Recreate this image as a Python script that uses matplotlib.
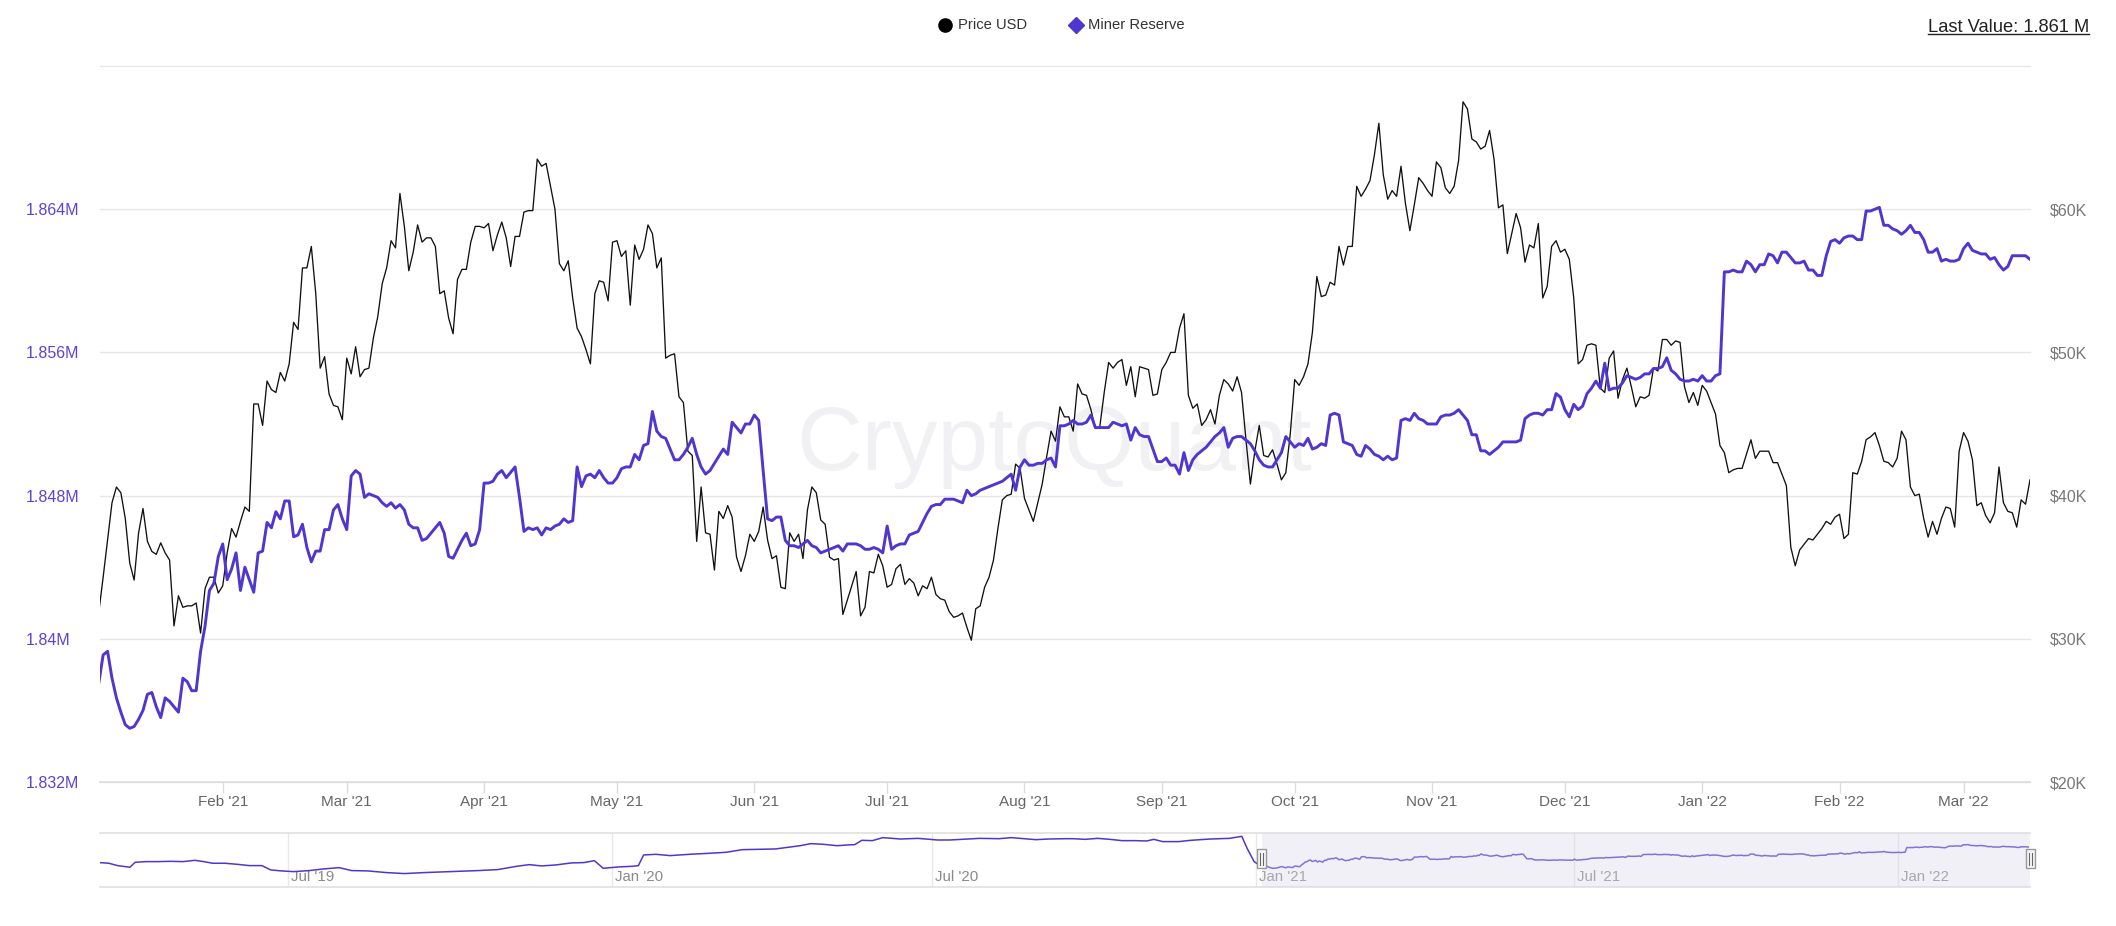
import matplotlib
matplotlib.use("Agg")
import matplotlib.pyplot as plt
import matplotlib.dates as mdates
from matplotlib.patches import Rectangle
from matplotlib.transforms import offset_copy
import numpy as np
import pandas as pd

plt.rcParams["font.family"] = ["Liberation Sans", "DejaVu Sans"]

# ---- data ----
start_date = "2021-01-04"  # first daily point of the zoomed window

# BTC price, thousands of USD, one value per day
price_kusd = [
    31.8, 34.3, 36.9, 39.5, 40.6, 40.2, 38.4, 35.3, 34.1, 37.4,
    39.1, 36.8, 36.1, 35.9, 36.7, 36.0, 35.5, 30.9, 33.0, 32.2,
    32.3, 32.3, 32.5, 30.4, 33.5, 34.3, 34.3, 33.2, 33.7, 36.0,
    37.7, 37.1, 38.2, 39.2, 38.9, 46.4, 46.4, 44.9, 48.0, 47.4,
    47.2, 48.6, 48.0, 49.2, 52.1, 51.6, 55.9, 55.9, 57.4, 54.1,
    48.9, 49.7, 47.1, 46.3, 46.2, 45.3, 49.6, 48.5, 50.4, 48.3,
    48.8, 48.9, 51.0, 52.5, 54.8, 55.9, 57.8, 57.3, 61.1, 58.8,
    55.7, 57.0, 58.9, 57.7, 58.0, 58.0, 57.4, 54.1, 54.3, 52.4,
    51.3, 55.1, 55.8, 55.8, 57.7, 58.8, 58.8, 58.7, 59.0, 57.1,
    58.2, 59.1, 58.0, 56.0, 58.1, 58.1, 59.8, 59.9, 59.9, 63.5,
    63.0, 63.2, 61.6, 60.0, 56.2, 55.7, 56.4, 53.8, 51.7, 51.1,
    50.2,
    49.2, 54.1, 55.0, 54.9, 53.6, 57.7, 57.8, 56.7, 57.1, 53.3,
    57.5, 56.5, 57.2, 58.9, 58.3, 55.9, 56.6, 49.6, 49.8, 49.9,
    46.9, 46.5, 43.1, 42.8, 36.8, 40.6, 37.4, 37.3, 34.8, 38.9,
    38.4, 39.3, 38.5, 35.7, 34.7, 35.8, 37.3, 36.8, 37.5, 39.2,
    36.9, 35.6, 35.8, 33.6, 33.5, 37.4, 36.8, 37.3, 35.6, 39.0,
    40.6, 40.2, 38.3, 38.0, 35.7, 35.5, 35.6, 31.7, 32.7, 33.7,
    34.7, 31.6, 32.2, 34.7, 34.6, 35.9, 35.1, 33.6, 33.8, 34.9,
    35.2, 33.8, 34.2, 33.9, 33.0, 33.7, 33.5, 34.3, 33.1, 32.8,
    32.7, 31.9, 31.5, 31.6, 31.8, 30.8, 29.9, 32.1, 32.3, 33.6,
    34.3, 35.5, 37.7, 39.7, 40.0, 40.1, 42.2, 41.9, 39.8, 39.0,
    38.2, 39.5, 40.8, 42.7, 44.5, 43.8, 46.2, 45.5, 45.5,
    44.5, 47.8, 47.1, 47.0, 46.0, 44.7, 44.8, 47.2, 49.3, 48.9,
    49.3, 49.5, 47.7, 49.0, 46.9, 49.0, 48.9, 48.8, 47.0, 47.1,
    48.8, 49.3, 50.0, 50.0, 51.7, 52.7, 47.0, 46.1, 46.4, 44.9,
    45.3, 46.0, 45.0, 47.0, 48.1, 47.8, 47.3, 48.3, 47.2, 43.9,
    40.8, 43.1, 44.9, 42.8, 42.7, 43.2, 42.2, 41.1, 41.6, 44.3,
    48.1, 47.7, 48.3, 49.2, 51.4, 55.3, 53.9, 54.0, 54.9, 54.7,
    57.4, 56.1, 57.4, 57.4, 61.6, 60.9, 61.4, 62.0, 63.8, 66.0,
    62.4, 60.7, 61.3, 60.9, 63.0, 60.4, 58.5, 60.3, 62.2, 61.8,
    61.3, 60.9, 63.3, 62.9, 61.5, 61.1, 61.6, 63.4, 67.5, 67.0,
    64.9, 64.7, 64.2, 64.4, 65.5, 63.5, 60.1, 60.3, 56.9, 58.3,
    59.7, 58.7, 56.3, 57.5, 57.3, 59.0, 53.8, 54.6,
    57.4, 57.8, 57.0, 57.2, 56.5, 53.8, 49.2, 49.5, 50.5, 50.6,
    50.5, 47.5, 47.2, 49.6, 50.1, 46.8, 48.1, 48.9, 47.6, 46.2,
    46.9, 46.8, 47.0, 48.9, 48.7, 50.9, 50.9, 50.5, 50.8, 50.7,
    47.6, 46.5, 47.2, 46.3, 47.7, 47.3, 46.5, 45.7, 43.5, 43.0,
    41.6, 41.8, 41.9, 41.9, 42.9, 43.9, 42.6, 43.1, 43.1, 43.1,
    42.3, 42.3, 41.5, 40.7, 36.4, 35.1, 36.2, 36.6, 37.0, 36.9,
    37.3, 37.7, 38.2, 38.0, 38.5, 38.7, 37.0, 37.3, 41.6, 41.5,
    42.4, 43.9, 44.1, 44.4, 43.5, 42.4, 42.3, 42.0, 42.6, 44.5,
    43.9, 40.6, 40.0, 40.1, 38.4, 37.1, 38.2, 37.3, 38.4, 39.2,
    39.1, 37.8, 43.1, 44.4, 43.8, 42.5, 39.3, 39.5, 38.6, 38.1,
    38.8, 42.0, 39.5, 38.9, 38.8, 37.8, 39.7, 39.4, 41.1,
]

# miner reserve, thousands of BTC, one value per day
miner_reserve_kbtc = [
    1837.5, 1839.1, 1839.3, 1837.8, 1836.7, 1835.9, 1835.2, 1835.0, 1835.1, 1835.5,
    1836.0, 1836.9, 1837.0, 1836.2, 1835.6, 1836.7, 1836.5, 1836.2, 1835.9, 1837.8,
    1837.6, 1837.1, 1837.1, 1839.3, 1840.7, 1842.7, 1843.1, 1844.6, 1845.3, 1843.3,
    1843.9, 1844.8, 1842.7, 1844.0, 1843.3, 1842.6, 1844.8, 1844.9, 1846.5, 1846.2,
    1847.1, 1846.7, 1847.7, 1847.7, 1845.7, 1845.8, 1846.4, 1845.1, 1844.3, 1844.9,
    1844.9, 1846.1, 1846.1, 1847.2, 1847.5, 1846.7, 1846.1, 1849.1, 1849.4, 1849.2,
    1847.9, 1848.1, 1848.0, 1847.9, 1847.6, 1847.4, 1847.6, 1847.3, 1847.5, 1847.2,
    1846.4, 1846.2, 1846.2, 1845.5, 1845.6, 1845.9, 1846.2, 1846.5, 1845.9, 1844.6,
    1844.5, 1845.0, 1845.5, 1845.9, 1845.2, 1845.3, 1846.1, 1848.7, 1848.7, 1848.8,
    1849.2, 1849.4, 1849.0, 1849.3, 1849.6, 1847.9, 1846.0, 1846.2, 1846.1, 1846.2,
    1845.8, 1846.2, 1846.1, 1846.3, 1846.4, 1846.7, 1846.5, 1846.6, 1849.6, 1848.5,
    1849.1, 1849.2, 1849.0, 1849.4, 1849.0, 1848.7, 1848.7, 1849.0, 1849.5, 1849.6,
    1849.6, 1850.3, 1850.0, 1850.8, 1850.9, 1852.7, 1851.6, 1851.3, 1851.2, 1850.6,
    1850.0, 1850.0, 1850.3, 1850.7, 1851.2, 1850.3, 1849.6, 1849.2, 1849.4, 1849.8,
    1850.2, 1850.6, 1850.3, 1852.1, 1851.8, 1851.5, 1852.0, 1852.0, 1852.5, 1852.2,
    1849.4, 1846.7, 1846.6, 1846.8, 1846.8, 1845.5, 1845.2, 1845.2, 1845.1, 1845.3,
    1845.5, 1845.2, 1845.1, 1844.8, 1844.9, 1845.0, 1845.1, 1845.2, 1844.9, 1845.3,
    1845.3, 1845.3, 1845.2, 1845.0, 1845.0, 1845.1, 1845.0, 1844.8, 1846.3, 1845.0,
    1845.2, 1845.3, 1845.3, 1845.8, 1845.9, 1846.0, 1846.5, 1847.0, 1847.4, 1847.5,
    1847.5, 1847.8, 1847.8, 1847.8, 1847.7, 1847.6, 1848.3, 1848.0, 1848.1, 1848.3,
    1848.4, 1848.5, 1848.6, 1848.7, 1848.8, 1849.0, 1849.2, 1848.3, 1849.6, 1850.0,
    1849.7, 1849.7, 1849.8, 1849.8, 1850.0, 1850.1, 1849.6, 1851.9, 1851.9, 1852.0,
    1852.2, 1852.0, 1852.0, 1852.1, 1852.5, 1851.8, 1851.8, 1851.8, 1851.8, 1852.1,
    1852.0, 1851.9, 1852.0, 1851.1, 1851.8, 1851.4, 1851.3, 1851.3, 1850.6, 1849.9,
    1849.9, 1850.1, 1849.7, 1849.7, 1849.2, 1850.4, 1849.4, 1850.0, 1850.3, 1850.5,
    1850.7, 1851.0, 1851.3, 1851.5, 1851.8, 1850.7, 1851.2, 1851.3, 1851.3, 1851.1,
    1850.9, 1850.5, 1850.0, 1849.7, 1849.6, 1849.6, 1850.0, 1850.4, 1851.3, 1851.0,
    1850.7, 1850.9, 1850.8, 1851.2, 1850.6, 1850.7, 1850.9, 1850.8, 1852.5, 1852.6,
    1852.5, 1851.0, 1850.9, 1850.8, 1850.3, 1850.2, 1850.8, 1850.6, 1850.3, 1850.2,
    1850.0, 1850.2, 1850.0, 1850.1, 1852.2, 1852.3, 1852.2, 1852.6, 1852.3, 1852.2,
    1852.0, 1852.0, 1852.0, 1852.4, 1852.5, 1852.5, 1852.6, 1852.8, 1852.5, 1852.2,
    1851.4, 1851.4, 1850.5, 1850.5, 1850.3, 1850.5, 1850.7, 1851.0, 1851.0, 1851.0,
    1851.0, 1851.1, 1852.3, 1852.5, 1852.6, 1852.6, 1852.5, 1852.8,
    1852.8, 1853.7, 1853.5, 1852.8, 1852.4, 1853.1, 1852.8, 1853.0, 1853.7, 1854.0,
    1854.4, 1854.0, 1855.4, 1853.9, 1854.0, 1854.0, 1854.3, 1854.7, 1854.6, 1854.5,
    1854.6, 1854.8, 1854.8, 1855.1, 1855.1, 1855.2, 1855.7, 1855.0, 1854.8, 1854.5,
    1854.4, 1854.4, 1854.5, 1854.4, 1854.7, 1854.4, 1854.4, 1854.7, 1854.8, 1860.5,
    1860.5, 1860.6, 1860.5, 1860.5, 1861.1, 1860.9, 1860.5, 1860.9, 1860.9, 1861.5,
    1861.4, 1861.0, 1861.6, 1861.6, 1861.3, 1861.0, 1861.0, 1861.1, 1860.6, 1860.6,
    1860.3, 1860.3, 1861.4, 1862.2, 1862.3, 1862.1, 1862.4, 1862.5, 1862.5, 1862.3,
    1862.3, 1863.9, 1863.9, 1864.0, 1864.1, 1863.1, 1863.1, 1862.9, 1862.8, 1862.6,
    1862.8, 1863.1, 1862.7, 1862.7, 1862.3, 1861.6, 1861.6, 1861.8, 1861.1, 1861.2,
    1861.1, 1861.1, 1861.2, 1861.8, 1862.1, 1861.7, 1861.6, 1861.5, 1861.5, 1861.2,
    1861.3, 1860.9, 1860.6, 1860.8, 1861.4, 1861.4, 1861.4, 1861.4, 1861.2,
]

# navigator history before the zoomed window: days relative to 2021-01-01
nav_origin = "2021-01-01"
nav_days = [
    -657, -652, -647, -640, -637, -631, -624, -617, -610, -603,
    -598, -593, -586, -579, -572, -565, -560, -554, -547, -538,
    -530, -521, -514, -505, -494, -484, -473, -463, -452, -442,
    -431, -420, -413, -406, -398, -389, -382, -376, -371, -362,
    -354, -351, -348, -341, -333, -322, -311, -301, -292, -283,
    -273, -266, -259, -253, -246, -238, -232, -228, -224, -218,
    -212, -202, -192, -181, -174, -167, -157, -146, -139, -132,
    -125, -118, -108, -104, -97, -90, -83, -76, -69, -62,
    -58, -53, -44, -37, -26, -15, -8, -5, -1,
]
nav_reserve_kbtc = [
    1842.0, 1841.2, 1838.3, 1836.3, 1842.4, 1843.2, 1843.2, 1843.6, 1843.2, 1844.8,
    1843.2, 1841.2, 1841.2, 1839.9, 1838.3, 1838.3, 1833.0, 1831.8, 1830.9, 1832.2,
    1834.2, 1835.8, 1832.2, 1831.8, 1829.7, 1828.5, 1829.7, 1830.5, 1831.3, 1832.2,
    1833.4, 1837.5, 1839.5, 1837.9, 1839.1, 1841.6, 1842.0, 1844.4, 1835.0, 1836.7,
    1837.5, 1838.3, 1851.4, 1852.2, 1850.6, 1852.2, 1853.4, 1854.7, 1857.9, 1858.3,
    1858.8, 1860.8, 1862.8, 1865.3, 1864.5, 1862.8, 1863.7, 1864.1, 1869.4, 1869.0,
    1872.7, 1871.0, 1871.8, 1869.8, 1869.8, 1870.6, 1871.8, 1871.4, 1872.7, 1871.4,
    1870.2, 1871.0, 1871.4, 1871.4, 1870.6, 1871.8, 1870.6, 1869.0, 1869.0, 1868.6,
    1870.6, 1867.8, 1867.8, 1869.4, 1871.0, 1871.8, 1874.3, 1859.6, 1843.2,
]

month_ticks = pd.date_range("2021-02-01", "2022-03-01", freq="MS")
nav_ticks = pd.to_datetime(["2019-07-01", "2020-01-01", "2020-07-01",
                            "2021-01-01", "2021-07-01", "2022-01-01"])
reserve_ticks = [1832, 1840, 1848, 1856, 1864, 1872]
price_ticks = [20, 30, 40, 50, 60, 70]
last_value_text = "Last Value: 1.861 M"

PURPLE = "#4e36d0"
PURPLE_LABEL = "#5a44d6"
GRID = "#e6e6e6"

W, H = 2116, 926


def px_box(x0, y0, x1, y1):
    # pixel rectangle (top-left origin) -> figure fraction
    return [x0 / W, 1 - y1 / H, (x1 - x0) / W, (y1 - y0) / H]


fig = plt.figure(figsize=(W / 100, H / 100), dpi=100)

# ---- main panel ----
ax_p = fig.add_axes(px_box(100, 66, 2030, 782))
ax_r = ax_p.twinx()

dates = pd.date_range(start_date, periods=len(price_kusd), freq="D")
assert len(dates) == len(miner_reserve_kbtc)

ax_p.plot(dates, price_kusd, color="#111111", lw=0.95, zorder=3)
ax_r.plot(dates, np.array(miner_reserve_kbtc) / 1000, color=PURPLE,
          lw=2.1, zorder=3, solid_joinstyle="round")

x_start = pd.Timestamp(start_date) + pd.Timedelta(hours=7)
ax_p.set_xlim(x_start, dates[-1])
ax_p.set_ylim(price_ticks[0], price_ticks[-1])
ax_r.set_ylim(reserve_ticks[0] / 1000, reserve_ticks[-1] / 1000)

for v in price_ticks:
    ax_p.axhline(v, color=GRID, lw=1.0, zorder=1, clip_on=False)

for ax in (ax_p, ax_r):
    for s in ax.spines.values():
        s.set_visible(False)
ax_p.spines["bottom"].set_visible(True)
ax_p.spines["bottom"].set_color("#dcdcdc")
ax_p.spines["bottom"].set_linewidth(1.2)

ax_p.set_xticks(month_ticks)
ax_p.set_xticklabels([d.strftime("%b '%y") for d in month_ticks])
ax_p.tick_params(axis="x", length=7.9, width=1, color="#dcdcdc", pad=1.5,
                 labelsize=11, labelcolor="#666666")

ax_p.yaxis.tick_right()
ax_p.set_yticks(price_ticks)
ax_p.set_yticklabels([f"${v}K" for v in price_ticks[:-1]] + [""])
ax_p.tick_params(axis="y", length=0, pad=14.4, labelsize=11.5,
                 labelcolor="#777777")

ax_r.yaxis.tick_left()
ax_r.set_yticks([v / 1000 for v in reserve_ticks])
ax_r.set_yticklabels([f"{v / 1000:g}M" for v in reserve_ticks[:-1]] + [""])
ax_r.tick_params(axis="y", length=0, pad=53.3, labelsize=11.5,
                 labelcolor=PURPLE_LABEL)
for lab in ax_r.get_yticklabels():
    lab.set_horizontalalignment("left")

# faint watermark behind the lines
ax_p.text(1054 / W, 1 - 470 / H, "CryptoQuant", transform=fig.transFigure,
          fontsize=65.5, color="#f1f1f4", ha="center", va="baseline", zorder=0)

# ---- navigator ----
ax_n = fig.add_axes(px_box(100, 833, 2030, 887))
nav_dates = pd.Timestamp(nav_origin) + pd.to_timedelta(nav_days, unit="D")
nav_x = list(nav_dates) + list(dates)
nav_y = list(nav_reserve_kbtc) + list(miner_reserve_kbtc)
nav_end = pd.Timestamp("2022-03-17")
ax_n.plot(nav_x, nav_y, color=PURPLE, lw=1.1, zorder=2)
ax_n.set_xlim(pd.Timestamp("2019-03-16"), nav_end)
ax_n.set_ylim(1812, 1878.4)
ax_n.set_xticks([])
ax_n.set_yticks([])
for side in ("left", "right"):
    ax_n.spines[side].set_visible(False)
for side in ("top", "bottom"):
    ax_n.spines[side].set_color("#e0e0e0")
    ax_n.spines[side].set_linewidth(1.2)

lab_tr = offset_copy(ax_n.get_xaxis_transform(), fig=fig, x=3, y=0, units="dots")
for t in nav_ticks:
    ax_n.axvline(t, color="#e8e8e8", lw=1, zorder=0)
    ax_n.text(t, 0.19, t.strftime("%b '%y"), transform=lab_tr, fontsize=10.8,
              color="#8a8a8a", ha="left", va="center", zorder=1)

# shaded selection window
ax_n.axvspan(x_start, nav_end, color="#d8d8e8", alpha=0.38, lw=0, zorder=4)

# ---- overlay in pixel coordinates for legend, handles, last value ----
ov = fig.add_axes([0, 0, 1, 1], zorder=10)
ov.set_xlim(0, W)
ov.set_ylim(H, 0)
ov.axis("off")
ov.patch.set_alpha(0)

for xd in (mdates.date2num(x_start), mdates.date2num(nav_end)):
    hx = ax_n.transData.transform((xd, 0))[0]
    ov.add_patch(Rectangle((hx - 4.5, 848.5), 9, 19, facecolor="#f7f7f7",
                           edgecolor="#999999", lw=1.0))
    for dx in (-1.5, 1.5):
        ov.plot([hx + dx, hx + dx], [852.5, 864.5], color="#666666", lw=0.8)

ov.plot(944.7, 25, marker="o", ms=9.5, color="black", ls="none")
ov.text(958, 25, "Price USD", ha="left", va="center", fontsize=10.6, color="#333333")
ov.plot(1075.5, 25, marker="D", ms=8, color=PURPLE, ls="none")
ov.text(1088, 25, "Miner Reserve", ha="left", va="center", fontsize=10.6,
        color="#333333")

last_txt = ov.text(2089, 31.5, last_value_text, ha="right", va="baseline",
                   fontsize=13.2, color="#222222")
fig.canvas.draw()
bb = last_txt.get_window_extent()
ov.plot([bb.x0, bb.x1], [33.5, 33.5], color="#222222", lw=1.0)

fig.savefig("out.png", dpi=100)
